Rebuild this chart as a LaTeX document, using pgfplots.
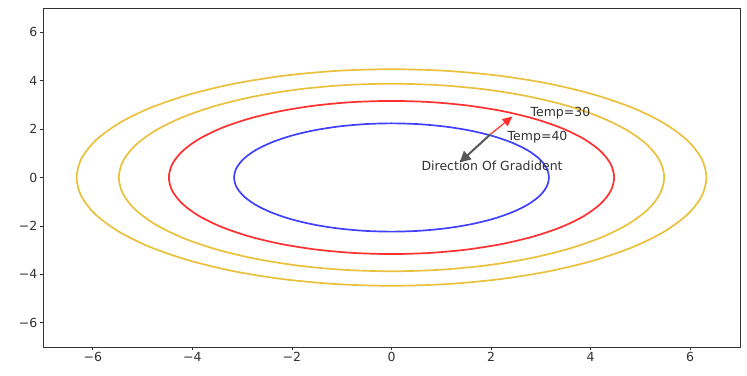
\documentclass[border=0pt]{standalone}
\usepackage{fontspec}
\setmainfont{DejaVu Sans}
\usepackage{pgfplots}
\pgfplotsset{compat=1.18}
\usetikzlibrary{arrows.meta}
\definecolor{cblue}{RGB}{64,64,255}
\definecolor{cred}{RGB}{255,48,48}
\definecolor{cyel}{RGB}{235,192,60}
\definecolor{cgrey}{RGB}{85,88,85}
\definecolor{ctext}{RGB}{50,50,50}
\begin{document}
\begin{tikzpicture}
\useasboundingbox (-43bp,-29bp) rectangle (704bp,347bp);
\begin{axis}[
  at={(0,0)}, anchor=south west,
  scale only axis, width=697bp, height=339bp,
  xmin=-7, xmax=7, ymin=-7, ymax=7,
  xtick={-6,-4,-2,0,2,4,6}, ytick={-6,-4,-2,0,2,4,6},
  xticklabels={−6,−4,−2,0,2,4,6}, yticklabels={−6,−4,−2,0,2,4,6},
  tick align=outside, major tick length=3.5bp,
  tick style={black!80, line width=0.8bp},
  axis line style={black!80, line width=0.8bp},
  xtick pos=bottom, ytick pos=left,
  ticklabel style={font=\fontsize{12.5bp}{14bp}\selectfont, text=ctext, inner sep=2bp},
  clip=false,
]
\addplot[cyel, line width=1.7bp, smooth cycle] coordinates {
(6.325,0) (6.229,0.777) (5.943,1.530) (5.477,2.236) (4.845,2.875) (4.065,3.426) (3.162,3.873) (2.163,4.202) (1.098,4.404)
(0,4.472) (-1.098,4.404) (-2.163,4.202) (-3.162,3.873) (-4.065,3.426) (-4.845,2.875) (-5.477,2.236) (-5.943,1.530) (-6.229,0.777)
(-6.325,0) (-6.229,-0.777) (-5.943,-1.530) (-5.477,-2.236) (-4.845,-2.875) (-4.065,-3.426) (-3.162,-3.873) (-2.163,-4.202) (-1.098,-4.404)
(0,-4.472) (1.098,-4.404) (2.163,-4.202) (3.162,-3.873) (4.065,-3.426) (4.845,-2.875) (5.477,-2.236) (5.943,-1.530) (6.229,-0.777)};
\addplot[cyel, line width=1.7bp, smooth cycle] coordinates {
(5.477,0) (5.394,0.673) (5.147,1.325) (4.743,1.937) (4.196,2.490) (3.521,2.967) (2.739,3.354) (1.873,3.639) (0.951,3.814)
(0,3.873) (-0.951,3.814) (-1.873,3.639) (-2.739,3.354) (-3.521,2.967) (-4.196,2.490) (-4.743,1.937) (-5.147,1.325) (-5.394,0.673)
(-5.477,0) (-5.394,-0.673) (-5.147,-1.325) (-4.743,-1.937) (-4.196,-2.490) (-3.521,-2.967) (-2.739,-3.354) (-1.873,-3.639) (-0.951,-3.814)
(0,-3.873) (0.951,-3.814) (1.873,-3.639) (2.739,-3.354) (3.521,-2.967) (4.196,-2.490) (4.743,-1.937) (5.147,-1.325) (5.394,-0.673)};
\addplot[cred, line width=1.7bp, smooth cycle] coordinates {
(4.472,0) (4.404,0.549) (4.202,1.082) (3.873,1.581) (3.426,2.033) (2.875,2.422) (2.236,2.739) (1.530,2.972) (0.777,3.114)
(0,3.162) (-0.777,3.114) (-1.530,2.972) (-2.236,2.739) (-2.875,2.422) (-3.426,2.033) (-3.873,1.581) (-4.202,1.082) (-4.404,0.549)
(-4.472,0) (-4.404,-0.549) (-4.202,-1.082) (-3.873,-1.581) (-3.426,-2.033) (-2.875,-2.422) (-2.236,-2.739) (-1.530,-2.972) (-0.777,-3.114)
(0,-3.162) (0.777,-3.114) (1.530,-2.972) (2.236,-2.739) (2.875,-2.422) (3.426,-2.033) (3.873,-1.581) (4.202,-1.082) (4.404,-0.549)};
\addplot[cblue, line width=1.7bp, smooth cycle] coordinates {
(3.162,0) (3.114,0.388) (2.972,0.765) (2.739,1.118) (2.422,1.437) (2.033,1.713) (1.581,1.937) (1.082,2.101) (0.549,2.202)
(0,2.236) (-0.549,2.202) (-1.082,2.101) (-1.581,1.937) (-2.033,1.713) (-2.422,1.437) (-2.739,1.118) (-2.972,0.765) (-3.114,0.388)
(-3.162,0) (-3.114,-0.388) (-2.972,-0.765) (-2.739,-1.118) (-2.422,-1.437) (-2.033,-1.713) (-1.581,-1.937) (-1.082,-2.101) (-0.549,-2.202)
(0,-2.236) (0.549,-2.202) (1.082,-2.101) (1.581,-1.937) (2.033,-1.713) (2.422,-1.437) (2.739,-1.118) (2.972,-0.765) (3.114,-0.388)};
\draw[cred, line width=1.2bp, -{Triangle[length=10bp,width=9bp]}] (axis cs:1.99,1.79) -- (axis cs:2.43,2.52);
\draw[cgrey, line width=2bp, -{Triangle[length=11bp,width=11bp]}] (axis cs:1.99,1.79) -- (axis cs:1.37,0.62);
\node[anchor=west, inner sep=0pt, text=ctext, font=\fontsize{12.5bp}{14bp}\selectfont] at (axis cs:2.79,2.66) {Temp=30};
\node[anchor=west, inner sep=0pt, text=ctext, font=\fontsize{12.5bp}{14bp}\selectfont] at (axis cs:2.33,1.67) {Temp=40};
\node[anchor=west, inner sep=0pt, text=ctext, font=\fontsize{12.5bp}{14bp}\selectfont] at (axis cs:0.60,0.47) {Direction Of Gradident};
\end{axis}
\end{tikzpicture}
\end{document}
